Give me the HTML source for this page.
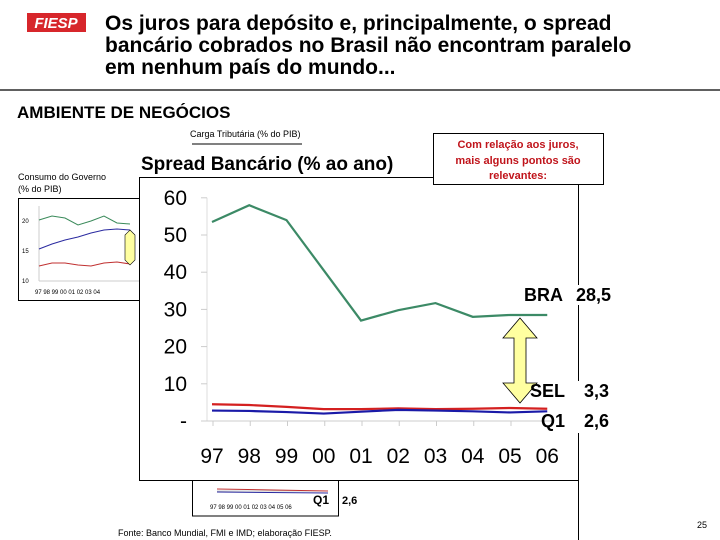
<!DOCTYPE html>
<html><head><meta charset="utf-8"><style>
body{margin:0;width:720px;height:540px;background:#fff;overflow:hidden;font-family:"Liberation Sans",sans-serif;}
svg{display:block}
</style></head><body>
<svg width="720" height="540" xmlns="http://www.w3.org/2000/svg" font-family="Liberation Sans, sans-serif">
<g>
<rect x="27" y="13" width="59" height="19" fill="#d7262b"/>
<text x="56" y="28" text-anchor="middle" font-size="15" font-weight="bold" font-style="italic" fill="#fff">FIESP</text>
</g>
<g font-size="21" font-weight="bold" fill="#000">
<text x="105" y="30">Os juros para depósito e, principalmente, o spread</text>
<text x="105" y="52">bancário cobrados no Brasil não encontram paralelo</text>
<text x="105" y="74">em nenhum país do mundo...</text>
</g>
<line x1="0" y1="90" x2="720" y2="90" stroke="#000" stroke-width="1.2"/>
<text x="17" y="118" font-size="17" font-weight="bold">AMBIENTE DE NEGÓCIOS</text>
<text x="190" y="137" font-size="9">Carga Tributária  (% do PIB)</text>
<line x1="192" y1="144" x2="302" y2="144" stroke="#000"/>
<text x="18" y="180" font-size="9">Consumo do Governo</text>
<text x="18" y="192" font-size="9">(% do PIB)</text>
<g>
<rect x="18.5" y="198.5" width="125" height="102" fill="#fff" stroke="#000"/>
<line x1="39" y1="206" x2="39" y2="281" stroke="#ccc"/><line x1="39" y1="281" x2="140" y2="281" stroke="#ccc"/>
<text x="22" y="223" font-size="6">20</text><text x="22" y="253" font-size="6">15</text><text x="22" y="283" font-size="6">10</text>
<text x="35" y="294" font-size="6">97 98 99 00 01 02 03 04</text>
<polyline points="39,220 52,216 65,218 78,225 91,221 104,216 117,223 130,224" fill="none" stroke="#3a8a5a"/>
<polyline points="39,249 52,244 65,240 78,237 91,233 104,230 117,229 130,230" fill="none" stroke="#2a2aa0"/>
<polyline points="39,266 52,263 65,263 78,265 91,266 104,263 117,262 130,264" fill="none" stroke="#c03030"/>
<polygon points="130,230 135,235 135,260 130,265 125,260 125,235" fill="#ffffa0" stroke="#000" stroke-width="0.6"/>
</g>
<g>
<rect x="192.5" y="478" width="146" height="38" fill="#fff" stroke="#000"/>
<line x1="217" y1="491" x2="328" y2="491" stroke="#ccc"/>
<polyline points="217,489 328,491" stroke="#c03030" fill="none"/>
<polyline points="217,492 328,493" stroke="#2a2aa0" fill="none"/>
<text x="210" y="509" font-size="6">97 98 99 00 01 02 03 04 05 06</text>
<text x="313" y="504" font-size="12" font-weight="bold">Q1</text>
<text x="342" y="504" font-size="11" font-weight="bold">2,6</text>
</g>
<rect x="139.5" y="177.5" width="439" height="303" fill="#fff" stroke="#000"/>
<line x1="380" y1="177.5" x2="434" y2="177.5" stroke="#000"/>
<line x1="578.5" y1="184" x2="578.5" y2="540" stroke="#000"/>
<text x="141" y="170" font-size="19" font-weight="bold">Spread Bancário (% ao ano)</text>
<g>
<rect x="433.5" y="133.5" width="170" height="51" fill="#fff" stroke="#000"/>
<g font-size="11" font-weight="bold" fill="#c0141b" text-anchor="middle">
<text x="518" y="148">Com relação aos juros,</text>
<text x="518" y="164">mais alguns pontos são</text>
<text x="518" y="179">relevantes:</text>
</g></g>
<g id="plot"></g>
<g>
<polygon points="520,318 537,338 526,338 526,383 537,383 520,403 503,383 514,383 514,338 503,338" fill="#ffffa0" stroke="#000" stroke-width="0.8"/>
<rect x="524" y="285" width="90" height="20" fill="#fff"/>
<rect x="572" y="381" width="42" height="52" fill="#fff"/>
<g font-size="18" font-weight="bold">
<text x="524" y="301">BRA</text>
<text x="576" y="301">28,5</text>
<text x="530" y="397">SEL</text>
<text x="584" y="397">3,3</text>
<text x="541" y="427">Q1</text>
<text x="584" y="427">2,6</text>
</g>
</g>
<text x="118" y="536" font-size="9">Fonte: Banco Mundial, FMI e IMD; elaboração FIESP.</text>
<text x="697" y="528" font-size="9">25</text>
</svg>
<script>
const categories=["97","98","99","00","01","02","03","04","05","06"];
const braSpread=[53.5,58,54,40.5,27,29.8,31.7,28,28.5,28.5];
const selSpread=[4.5,4.3,3.8,3.2,3.2,3.4,3.2,3.3,3.5,3.3];
const q1Spread=[2.8,2.7,2.4,2.0,2.5,3.0,2.8,2.6,2.3,2.6];
const yTicks=[0,10,20,30,40,50,60];
const yTickLabels=["-","10","20","30","40","50","60"];
const NS="http://www.w3.org/2000/svg";
const plot=document.getElementById('plot');
const X0=212,DX=37.25,Y0=421,PY=3.72;
const x=i=>X0+DX*i, y=v=>Y0-v*PY;
function mk(t,a){const e=document.createElementNS(NS,t);for(const k in a)e.setAttribute(k,a[k]);plot.appendChild(e);return e;}
let ax=mk('line',{x1:207,y1:y(60),x2:207,y2:Y0,stroke:'#ddd'});


let bl=mk('line',{x1:207,y1:Y0,x2:x(9)+5,y2:Y0,stroke:'#ccc'});


yTicks.forEach((v,i)=>{
 const t=mk('line',{x1:201,y1:y(v),x2:207,y2:y(v),stroke:'#ccc'});
 
 
 const l=mk('text',{x:187,y:y(v)+7,'font-size':21,'text-anchor':'end'});
 l.textContent=yTickLabels[i];
 
 
});
categories.forEach((c,i)=>{
 if(i<9){const t=mk('line',{x1:x(i)+1,y1:Y0,x2:x(i)+1,y2:Y0+5,stroke:'#ccc'});
 
 }
 const l=mk('text',{x:x(i),y:463,'font-size':21,'text-anchor':'middle'});
 l.textContent=c;
 
 
});
function series(vals,color,name){
 const p=mk('polyline',{points:vals.map((v,i)=>x(i)+','+y(v)).join(' '),fill:'none',stroke:color,'stroke-width':2.2});
 
 
}
series(braSpread,'#3c8a66','bra-spread-line');
series(selSpread,'#d42020','sel-spread-line');
series(q1Spread,'#1a1aa8','q1-spread-line');
</script>
</body></html>
